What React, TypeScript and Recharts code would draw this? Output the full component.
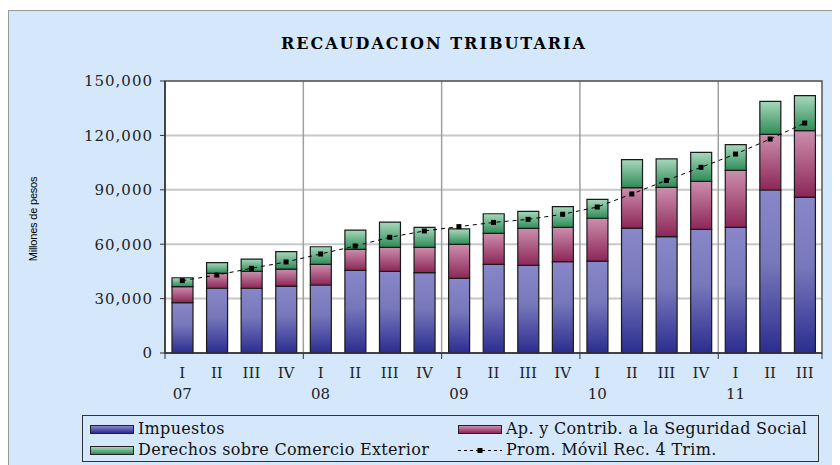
import React from 'react';
import {
  Bar,
  BarChart,
  CartesianGrid,
  Line,
  ReferenceArea,
  XAxis,
  YAxis,
} from 'recharts';

// Recaudación tributaria trimestral, millones de pesos
const years = ['07', '07', '07', '07', '08', '08', '08', '08', '09', '09', '09', '09', '10', '10', '10', '10', '11', '11', '11'];
const quarters = ['I', 'II', 'III', 'IV', 'I', 'II', 'III', 'IV', 'I', 'II', 'III', 'IV', 'I', 'II', 'III', 'IV', 'I', 'II', 'III'];
const impuestos = [27800, 35700, 35700, 36900, 37500, 45600, 45000, 44300, 41200, 48900, 48300, 50400, 50700, 68900, 64200, 68200, 69300, 89900, 86000];
const seguridadSocial = [8800, 8200, 9300, 9400, 11400, 11600, 13300, 14000, 18700, 17100, 20400, 18900, 23600, 22300, 27100, 26500, 31400, 30700, 36600];
const comercioExterior = [4900, 5900, 6800, 9600, 9700, 10600, 13900, 11000, 8500, 10800, 9400, 11400, 10400, 15400, 15800, 15900, 14200, 18200, 19300];
const promMovil = [39900, 43000, 46700, 50200, 54600, 59000, 63800, 67300, 69700, 72000, 73700, 76500, 80500, 87700, 95200, 102400, 109700, 118000, 126800];
const yTicks = [0, 30000, 60000, 90000, 120000, 150000];

const data = quarters.map((q, i) => ({
  key: `${years[i]}-${q}`,
  q,
  year: years[i],
  impuestos: impuestos[i],
  seguridad: seguridadSocial[i],
  comercio: comercioExterior[i],
  prom: promMovil[i],
}));

// límites entre años (para las líneas verticales)
const yearStarts = data.map((d, i) => (i > 0 && d.q === 'I' ? i : -1)).filter((i) => i > 0);

const BG = '#d5e8fb';
const SERIF = '"DejaVu Serif", "Liberation Serif", serif';

const fmt = (v: number) => v.toLocaleString('en-US');

function QuarterTick(props: any) {
  const { x, y, payload, index, width, visibleTicksCount } = props;
  const d = data[index] ?? data.find((r) => r.key === payload.value);
  const half = payload.offset ?? width / visibleTicksCount / 2;
  const isLast = index === data.length - 1;
  return (
    <g>
      {d && d.q === 'I' && <line x1={x - half} x2={x - half} y1={y} y2={y + 6} stroke="#333" />}
      {isLast && <line x1={x + half} x2={x + half} y1={y} y2={y + 6} stroke="#333" />}
      <text x={x} y={y + 25} textAnchor="middle" fontFamily={SERIF} fontSize={15} fill="#222">
        {d?.q}
      </text>
      {d && d.q === 'I' && (
        <text x={x} y={y + 46} textAnchor="middle" fontFamily={SERIF} fontSize={15} fill="#222">
          {d.year}
        </text>
      )}
    </g>
  );
}

function SquareDot(props: any) {
  const { cx, cy } = props;
  if (cx == null || cy == null) return null;
  return <rect x={cx - 2.5} y={cy - 2.5} width={5} height={5} fill="#000" />;
}

function LegendSwatch({ from, to }: { from: string; to: string }) {
  return (
    <span
      style={{
        display: 'inline-block',
        width: 42,
        height: 7,
        border: '1px solid #222',
        background: `linear-gradient(${from}, ${to})`,
        marginRight: 4,
        verticalAlign: 'middle',
      }}
    />
  );
}

function LegendLine() {
  return (
    <svg width={44} height={9} style={{ marginRight: 4, verticalAlign: 'middle' }}>
      <line x1={0} x2={44} y1={4.5} y2={4.5} stroke="#000" strokeDasharray="3 3" />
      <rect x={19.5} y={2} width={5} height={5} fill="#000" />
    </svg>
  );
}

export default function App() {
  const W = 832;
  const H = 457;
  return (
    <div style={{ position: 'relative', width: W, height: H, overflow: 'hidden' }}>
      <div
        style={{
          position: 'absolute',
          left: 0,
          top: 2,
          width: W + 10,
          height: H + 10,
          background: BG,
          border: '1px solid #999',
          boxSizing: 'border-box',
        }}
      />
      <div
        style={{
          position: 'absolute',
          left: 0,
          width: 852,
          top: 26,
          textAlign: 'center',
          fontFamily: SERIF,
          fontWeight: 'bold',
          fontSize: 16,
          letterSpacing: 2,
          color: '#000',
        }}
      >
        RECAUDACION TRIBUTARIA
      </div>
      <div style={{ position: 'absolute', left: 0, top: 0 }}>
        <BarChart
          width={W}
          height={H}
          data={data}
          margin={{ top: 73, right: 18, left: 0, bottom: 67 }}
          barSize={21}
        >
          <defs>
            <linearGradient id="gImp" x1="0" y1="0" x2="0" y2="1">
              <stop offset="0%" stopColor="#8787c9" />
              <stop offset="45%" stopColor="#7777bb" />
              <stop offset="100%" stopColor="#2b2d8f" />
            </linearGradient>
            <linearGradient id="gSeg" x1="0" y1="0" x2="0" y2="1">
              <stop offset="0%" stopColor="#cc8fad" />
              <stop offset="100%" stopColor="#8c2657" />
            </linearGradient>
            <linearGradient id="gCom" x1="0" y1="0" x2="0" y2="1">
              <stop offset="0%" stopColor="#a8d8bc" />
              <stop offset="100%" stopColor="#2e8b57" />
            </linearGradient>
          </defs>
          <CartesianGrid vertical={false} stroke="#c8c8c8" strokeWidth={2} fill="#fff" />
          <CartesianGrid
            horizontal={false}
            stroke="#a0a0a0"
            strokeWidth={1.5}
            verticalCoordinatesGenerator={({ offset }: any) =>
              yearStarts.map((k) => offset.left + (offset.width * k) / data.length)
            }
          />
          <ReferenceArea y1={0} y2={150000} fill="none" stroke="#555" strokeWidth={1.5} />
          <XAxis
            dataKey="key"
            interval={0}
            height={45}
            tickLine={false}
            tickSize={0}
            tickMargin={0}
            axisLine={{ stroke: '#333', strokeWidth: 1.5 }}
            tick={<QuarterTick />}
          />
          <YAxis
            width={157}
            domain={[0, 150000]}
            ticks={yTicks}
            tickFormatter={fmt}
            tickSize={5}
            tickMargin={7}
            axisLine={{ stroke: '#333', strokeWidth: 1.5 }}
            tickLine={{ stroke: '#333' }}
            tick={{ fontFamily: SERIF, fontSize: 15, fill: '#222', letterSpacing: 1 }}
            label={{
              value: 'Millones de pesos',
              angle: -90,
              position: 'insideLeft',
              dx: 20,
              dy: 2,
              style: { fontFamily: 'Liberation Sans, Arial, sans-serif', fontSize: 11, fill: '#000', letterSpacing: -0.2, textAnchor: 'middle' },
            }}
          />
          <Bar dataKey="impuestos" stackId="a" fill="url(#gImp)" stroke="#1a1a1a" strokeWidth={1.2} isAnimationActive={false} />
          <Bar dataKey="seguridad" stackId="a" fill="url(#gSeg)" stroke="#1a1a1a" strokeWidth={1.2} isAnimationActive={false} />
          <Bar dataKey="comercio" stackId="a" fill="url(#gCom)" stroke="#1a1a1a" strokeWidth={1.2} isAnimationActive={false} />
          <Line
            dataKey="prom"
            type="linear"
            stroke="#000"
            strokeWidth={1}
            strokeDasharray="4 4"
            dot={<SquareDot />}
            activeDot={false}
            isAnimationActive={false}
          />
        </BarChart>
      </div>
      <div
        style={{
          position: 'absolute',
          left: 74,
          top: 407,
          width: 737,
          height: 47,
          border: '1px solid #333',
          boxSizing: 'border-box',
          background: BG,
          fontFamily: SERIF,
          fontSize: 16,
          letterSpacing: 0.3,
          color: '#111',
          display: 'grid',
          gridTemplateColumns: '368px 1fr',
          gridTemplateRows: '21px 21px',
          paddingLeft: 7,
          paddingTop: 2,
          lineHeight: '21px',
          whiteSpace: 'nowrap',
        }}
      >
        <div>
          <LegendSwatch from="#8787c9" to="#2b2d8f" />
          Impuestos
        </div>
        <div>
          <LegendSwatch from="#cc8fad" to="#8c2657" />
          Ap. y Contrib. a la Seguridad Social
        </div>
        <div>
          <LegendSwatch from="#a8d8bc" to="#2e8b57" />
          Derechos sobre Comercio Exterior
        </div>
        <div>
          <LegendLine />
          Prom. Móvil Rec. 4 Trim.
        </div>
      </div>
    </div>
  );
}
